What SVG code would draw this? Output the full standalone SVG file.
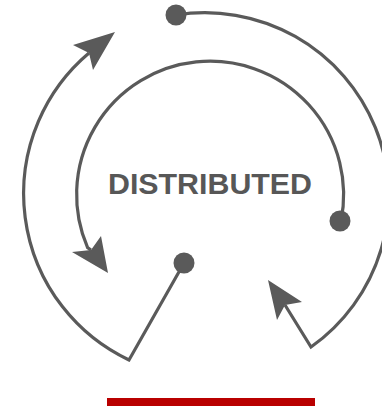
<svg xmlns="http://www.w3.org/2000/svg" width="382" height="409" viewBox="0 0 382 409">
  <style>
    .ln { fill: none; stroke: #5a5a5a; stroke-width: 3.2; stroke-linejoin: miter; stroke-linecap: butt; }
    .hd { fill: #5a5a5a; stroke: none; }
    .dot { fill: #5a5a5a; }
    .lbl { font-family: "Liberation Sans", Arial, sans-serif; font-weight: bold; font-size: 29.5px; fill: #575757; }
  </style>
  <rect width="382" height="409" fill="#ffffff"/>
  <g id="connectors">
    <path class="ln" d="M 176 15 A 184 184 0 0 1 311 347 L 285 305"/>
    <path class="ln" d="M 184 263 L 129 360 A 184 184 0 0 1 89 53"/>
    <path class="ln" d="M 91 250 L 87.6 247.7 A 133.5 133.5 0 1 1 341 221"/>
    <polygon class="hd" points="115,32 73,45 89,53 93,70"/>
    <polygon class="hd" points="108,273 72,252 91,250 101,236"/>
    <polygon class="hd" points="268,280 302,302 285,305 277,320"/>
  </g>
  <g id="dot-top"><circle class="dot" cx="176" cy="15" r="10.5"/></g>
  <g id="dot-right"><circle class="dot" cx="340" cy="221" r="10.5"/></g>
  <g id="dot-bottom"><circle class="dot" cx="184" cy="263" r="10.5"/></g>
  <g id="label"><text class="lbl" x="108" y="194" textLength="204" lengthAdjust="spacingAndGlyphs">DISTRIBUTED</text></g>
  <g id="bar"><rect x="107" y="398" width="208" height="8" fill="#b90000"/></g>
</svg>
